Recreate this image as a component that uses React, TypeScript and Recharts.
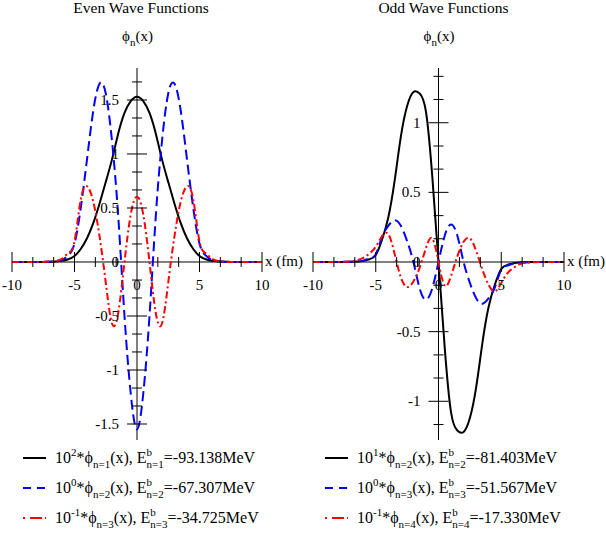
import { LineChart, Line, XAxis, YAxis, ReferenceLine, ReferenceDot } from 'recharts'

const FONT = '"Liberation Serif", "Times New Roman", serif'
const PHI = 'ϕ'

// x grid (fm)
const xs = [
  -10, -9.5, -9, -8.5, -8, -7.5, -7, -6.5, -6, -5.5, -5, -4.5, -4, -3.5, -3, -2.5, -2, -1.5, -1, -0.5, 0,
  0.5, 1, 1.5, 2, 2.5, 3, 3.5, 4, 4.5, 5, 5.5, 6, 6.5, 7, 7.5, 8, 8.5, 9, 9.5, 10,
]

// even wave functions (scaled as in the legend)
const evenN1 = [
  0, 0, 0, 0, 0, 0.001, 0.002, 0.005, 0.011, 0.025, 0.055, 0.12, 0.22, 0.36, 0.54, 0.74, 0.95, 1.19, 1.38, 1.49, 1.53,
  1.49, 1.38, 1.19, 0.95, 0.74, 0.54, 0.36, 0.22, 0.12, 0.055, 0.025, 0.011, 0.005, 0.002, 0.001, 0, 0, 0, 0, 0,
]
const evenN2 = [
  0, 0, 0, 0, 0, 0.001, 0.003, 0.008, 0.02, 0.06, 0.17, 0.5, 0.95, 1.4, 1.65, 1.56, 1.12, 0.42, -0.5, -1.22, -1.55,
  -1.22, -0.5, 0.42, 1.12, 1.56, 1.65, 1.4, 0.95, 0.5, 0.17, 0.06, 0.02, 0.008, 0.003, 0.001, 0, 0, 0, 0, 0,
]
const evenN3 = [
  0, 0, 0, 0, 0, 0.001, 0.004, 0.01, 0.03, 0.08, 0.19, 0.58, 0.7, 0.56, 0.24, -0.19, -0.57, -0.47, 0, 0.44, 0.605,
  0.44, 0, -0.47, -0.57, -0.19, 0.24, 0.56, 0.7, 0.58, 0.19, 0.08, 0.03, 0.01, 0.004, 0.001, 0, 0, 0, 0, 0,
]

// odd wave functions
const oddN2 = [
  0, 0, 0, 0, 0, 0, 0.001, 0.003, 0.008, 0.02, 0.05, 0.16, 0.32, 0.58, 0.9, 1.12, 1.22, 1.21, 1.08, 0.62, 0,
  -0.62, -1.08, -1.21, -1.22, -1.12, -0.9, -0.58, -0.32, -0.16, -0.05, -0.02, -0.008, -0.003, -0.001, 0, 0, 0, 0, 0, 0,
]
const oddN3 = [
  0, 0, 0, 0, 0, 0.001, 0.002, 0.004, 0.01, 0.025, 0.055, 0.18, 0.26, 0.3, 0.26, 0.15, 0, -0.19, -0.27, -0.19, 0,
  0.19, 0.27, 0.19, 0, -0.15, -0.26, -0.3, -0.26, -0.18, -0.055, -0.025, -0.01, -0.004, -0.002, -0.001, 0, 0, 0, 0, 0,
]
const oddN4 = [
  0, 0, 0, 0, 0, 0.002, 0.004, 0.012, 0.03, 0.06, 0.11, 0.185, 0.2, 0.06, -0.11, -0.18, -0.14, -0.04, 0.1, 0.17, 0,
  -0.17, -0.1, 0.04, 0.145, 0.17, 0.08, -0.055, -0.165, -0.21, -0.15, -0.08, -0.04, -0.015, -0.005, -0.002, 0, 0, 0, 0, 0,
]

// axis ticks
const xMajor = [-10, -5, 5, 10]
const xMinor = [-8.333, -6.667, -3.333, -1.667, 1.667, 3.333, 6.667, 8.333]
const evenYMajor = [-1.5, -1, -0.5, 0.5, 1, 1.5]
const evenYMinor = [-1.333, -1.167, -0.833, -0.667, -0.333, -0.167, 0.167, 0.333, 0.667, 0.833, 1.167, 1.333, 1.667]
const oddYMajor = [-1, -0.5, 0.5, 1]
const oddYMinor = [-1.167, -0.833, -0.667, -0.333, -0.167, 0.167, 0.333, 0.667, 0.833, 1.167, 1.333]

// legend texts
const evenPowers = ['2', '0', '-1']
const evenLevels = ['1', '2', '3']
const evenEnergies = ['-93.138', '-67.307', '-34.725']
const oddPowers = ['1', '0', '-1']
const oddLevels = ['2', '3', '4']
const oddEnergies = ['-81.403', '-51.567', '-17.330']

const seriesStyle = [
  { color: '#000000', dash: undefined, legendDash: undefined },
  { color: '#0000ff', dash: '10 5', legendDash: '8 6' },
  { color: '#ff0000', dash: '7 3 2 3', legendDash: '2 5 12 3 2 10' },
]

const fmt = (v: number) => String(v)

const xTick = (len: number, label?: string) => (p: any) => (
  <g>
    <line x1={p.cx} x2={p.cx} y1={p.cy - len} y2={p.cy + len} stroke="#000" strokeWidth={1} />
    {label !== undefined && (
      <text x={p.cx} y={p.cy + 28} textAnchor="middle" fontSize={15} fontFamily={FONT} fill="#000">
        {label}
      </text>
    )}
  </g>
)

const yTick = (len: number, label?: string) => (p: any) => (
  <g>
    <line x1={p.cx - len} x2={p.cx + len} y1={p.cy} y2={p.cy} stroke="#000" strokeWidth={1} />
    {label !== undefined && (
      <text x={p.cx - 18} y={p.cy + 5} textAnchor="end" fontSize={15} fontFamily={FONT} fill="#000">
        {label}
      </text>
    )}
  </g>
)

const xName = (p: any) => (
  <text x={p.cx + 3} y={p.cy + 4} fontSize={15} fontFamily={FONT} fill="#000">
    x (fm)
  </text>
)

const originLabels = (p: any) => (
  <g fontSize={15} fontFamily={FONT} fill="#000">
    <text x={p.cx - 18} y={p.cy + 5} textAnchor="end">0</text>
    <text x={p.cx} y={p.cy + 28} textAnchor="middle">0</text>
  </g>
)

type PanelProps = {
  left: number
  marginLeft: number
  marginRight: number
  series: number[][]
  yDomain: [number, number]
  yMajor: number[]
  yMinor: number[]
}

function Panel({ left, marginLeft, marginRight, series, yDomain, yMajor, yMinor }: PanelProps) {
  const data = xs.map((x, i) => ({ x, a: series[0][i], b: series[1][i], c: series[2][i] }))
  const keys = ['a', 'b', 'c']
  return (
    <div style={{ position: 'absolute', left, top: 0 }}>
      <LineChart
        width={303}
        height={533}
        data={data}
        margin={{ top: 68, right: marginRight, bottom: 93, left: marginLeft }}
      >
        <XAxis type="number" dataKey="x" domain={[-10, 10]} hide allowDataOverflow />
        <YAxis type="number" domain={yDomain} hide allowDataOverflow />
        <ReferenceLine y={0} stroke="#000" strokeWidth={1} />
        <ReferenceLine x={0} stroke="#000" strokeWidth={1} />
        {xMajor.map((v) => (
          <ReferenceDot key={'xM' + v} x={v} y={0} ifOverflow="visible" shape={xTick(10, fmt(v))} />
        ))}
        {xMinor.map((v) => (
          <ReferenceDot key={'xm' + v} x={v} y={0} ifOverflow="visible" shape={xTick(5)} />
        ))}
        {yMajor.map((v) => (
          <ReferenceDot key={'yM' + v} x={0} y={v} ifOverflow="visible" shape={yTick(10, fmt(v))} />
        ))}
        {yMinor.map((v) => (
          <ReferenceDot key={'ym' + v} x={0} y={v} ifOverflow="visible" shape={yTick(5)} />
        ))}
        <ReferenceDot x={0} y={0} ifOverflow="visible" shape={originLabels} />
        <ReferenceDot x={10} y={0} ifOverflow="visible" shape={xName} />
        {keys.map((k, i) => (
          <Line
            key={k}
            dataKey={k}
            type="natural"
            stroke={seriesStyle[i].color}
            strokeWidth={2}
            strokeDasharray={seriesStyle[i].dash}
            dot={false}
            activeDot={false}
            isAnimationActive={false}
          />
        ))}
      </LineChart>
    </div>
  )
}

function LegendRow({ x, y, pow, n, energy, idx }: { x: number; y: number; pow: string; n: string; energy: string; idx: number }) {
  const s = seriesStyle[idx]
  return (
    <g>
      <line x1={x} x2={x + 23} y1={y - 5} y2={y - 5} stroke={s.color} strokeWidth={2} strokeDasharray={s.legendDash} />
      <text x={x + 32} y={y} fontSize={16} fill="#000">
        10
        <tspan dy={-7} fontSize={11}>{pow}</tspan>
        <tspan dy={7}>*{PHI}</tspan>
        <tspan dy={5} fontSize={11}>n={n}</tspan>
        <tspan dy={-5}>(x), E</tspan>
        <tspan dy={-7} fontSize={11}>b</tspan>
        <tspan dx={-5.5} dy={12} fontSize={11}>n={n}</tspan>
        <tspan dy={-5}>={energy}MeV</tspan>
      </text>
    </g>
  )
}

export default function App() {
  return (
    <div style={{ position: 'absolute', left: 0, top: 0, width: 606, height: 533, background: '#fff', fontFamily: FONT }}>
      <Panel
        left={0}
        marginLeft={12}
        marginRight={41}
        series={[evenN1, evenN2, evenN3]}
        yDomain={[-1.648, 1.796]}
        yMajor={evenYMajor}
        yMinor={evenYMinor}
      />
      <Panel
        left={303}
        marginLeft={10}
        marginRight={42}
        series={[oddN2, oddN3, oddN4]}
        yDomain={[-1.278, 1.393]}
        yMajor={oddYMajor}
        yMinor={oddYMinor}
      />
      <svg
        width={606}
        height={533}
        style={{ position: 'absolute', left: 0, top: 0, pointerEvents: 'none' }}
        fontFamily={FONT}
      >
        <text x={141} y={12.5} textAnchor="middle" fontSize={15.5}>Even Wave Functions</text>
        <text x={443.5} y={12.5} textAnchor="middle" fontSize={15.5}>Odd Wave Functions</text>
        <text x={137.5} y={41} textAnchor="middle" fontSize={15}>
          {PHI}<tspan dy={5} fontSize={11}>n</tspan>
          <tspan dy={-5}>(x)</tspan>
        </text>
        <text x={439} y={41} textAnchor="middle" fontSize={15}>
          {PHI}<tspan dy={5} fontSize={11}>n</tspan>
          <tspan dy={-5}>(x)</tspan>
        </text>
        {evenPowers.map((p, i) => (
          <LegendRow key={'e' + i} x={23} y={463 + 30 * i} pow={p} n={evenLevels[i]} energy={evenEnergies[i]} idx={i} />
        ))}
        {oddPowers.map((p, i) => (
          <LegendRow key={'o' + i} x={325} y={463 + 30 * i} pow={p} n={oddLevels[i]} energy={oddEnergies[i]} idx={i} />
        ))}
      </svg>
    </div>
  )
}
